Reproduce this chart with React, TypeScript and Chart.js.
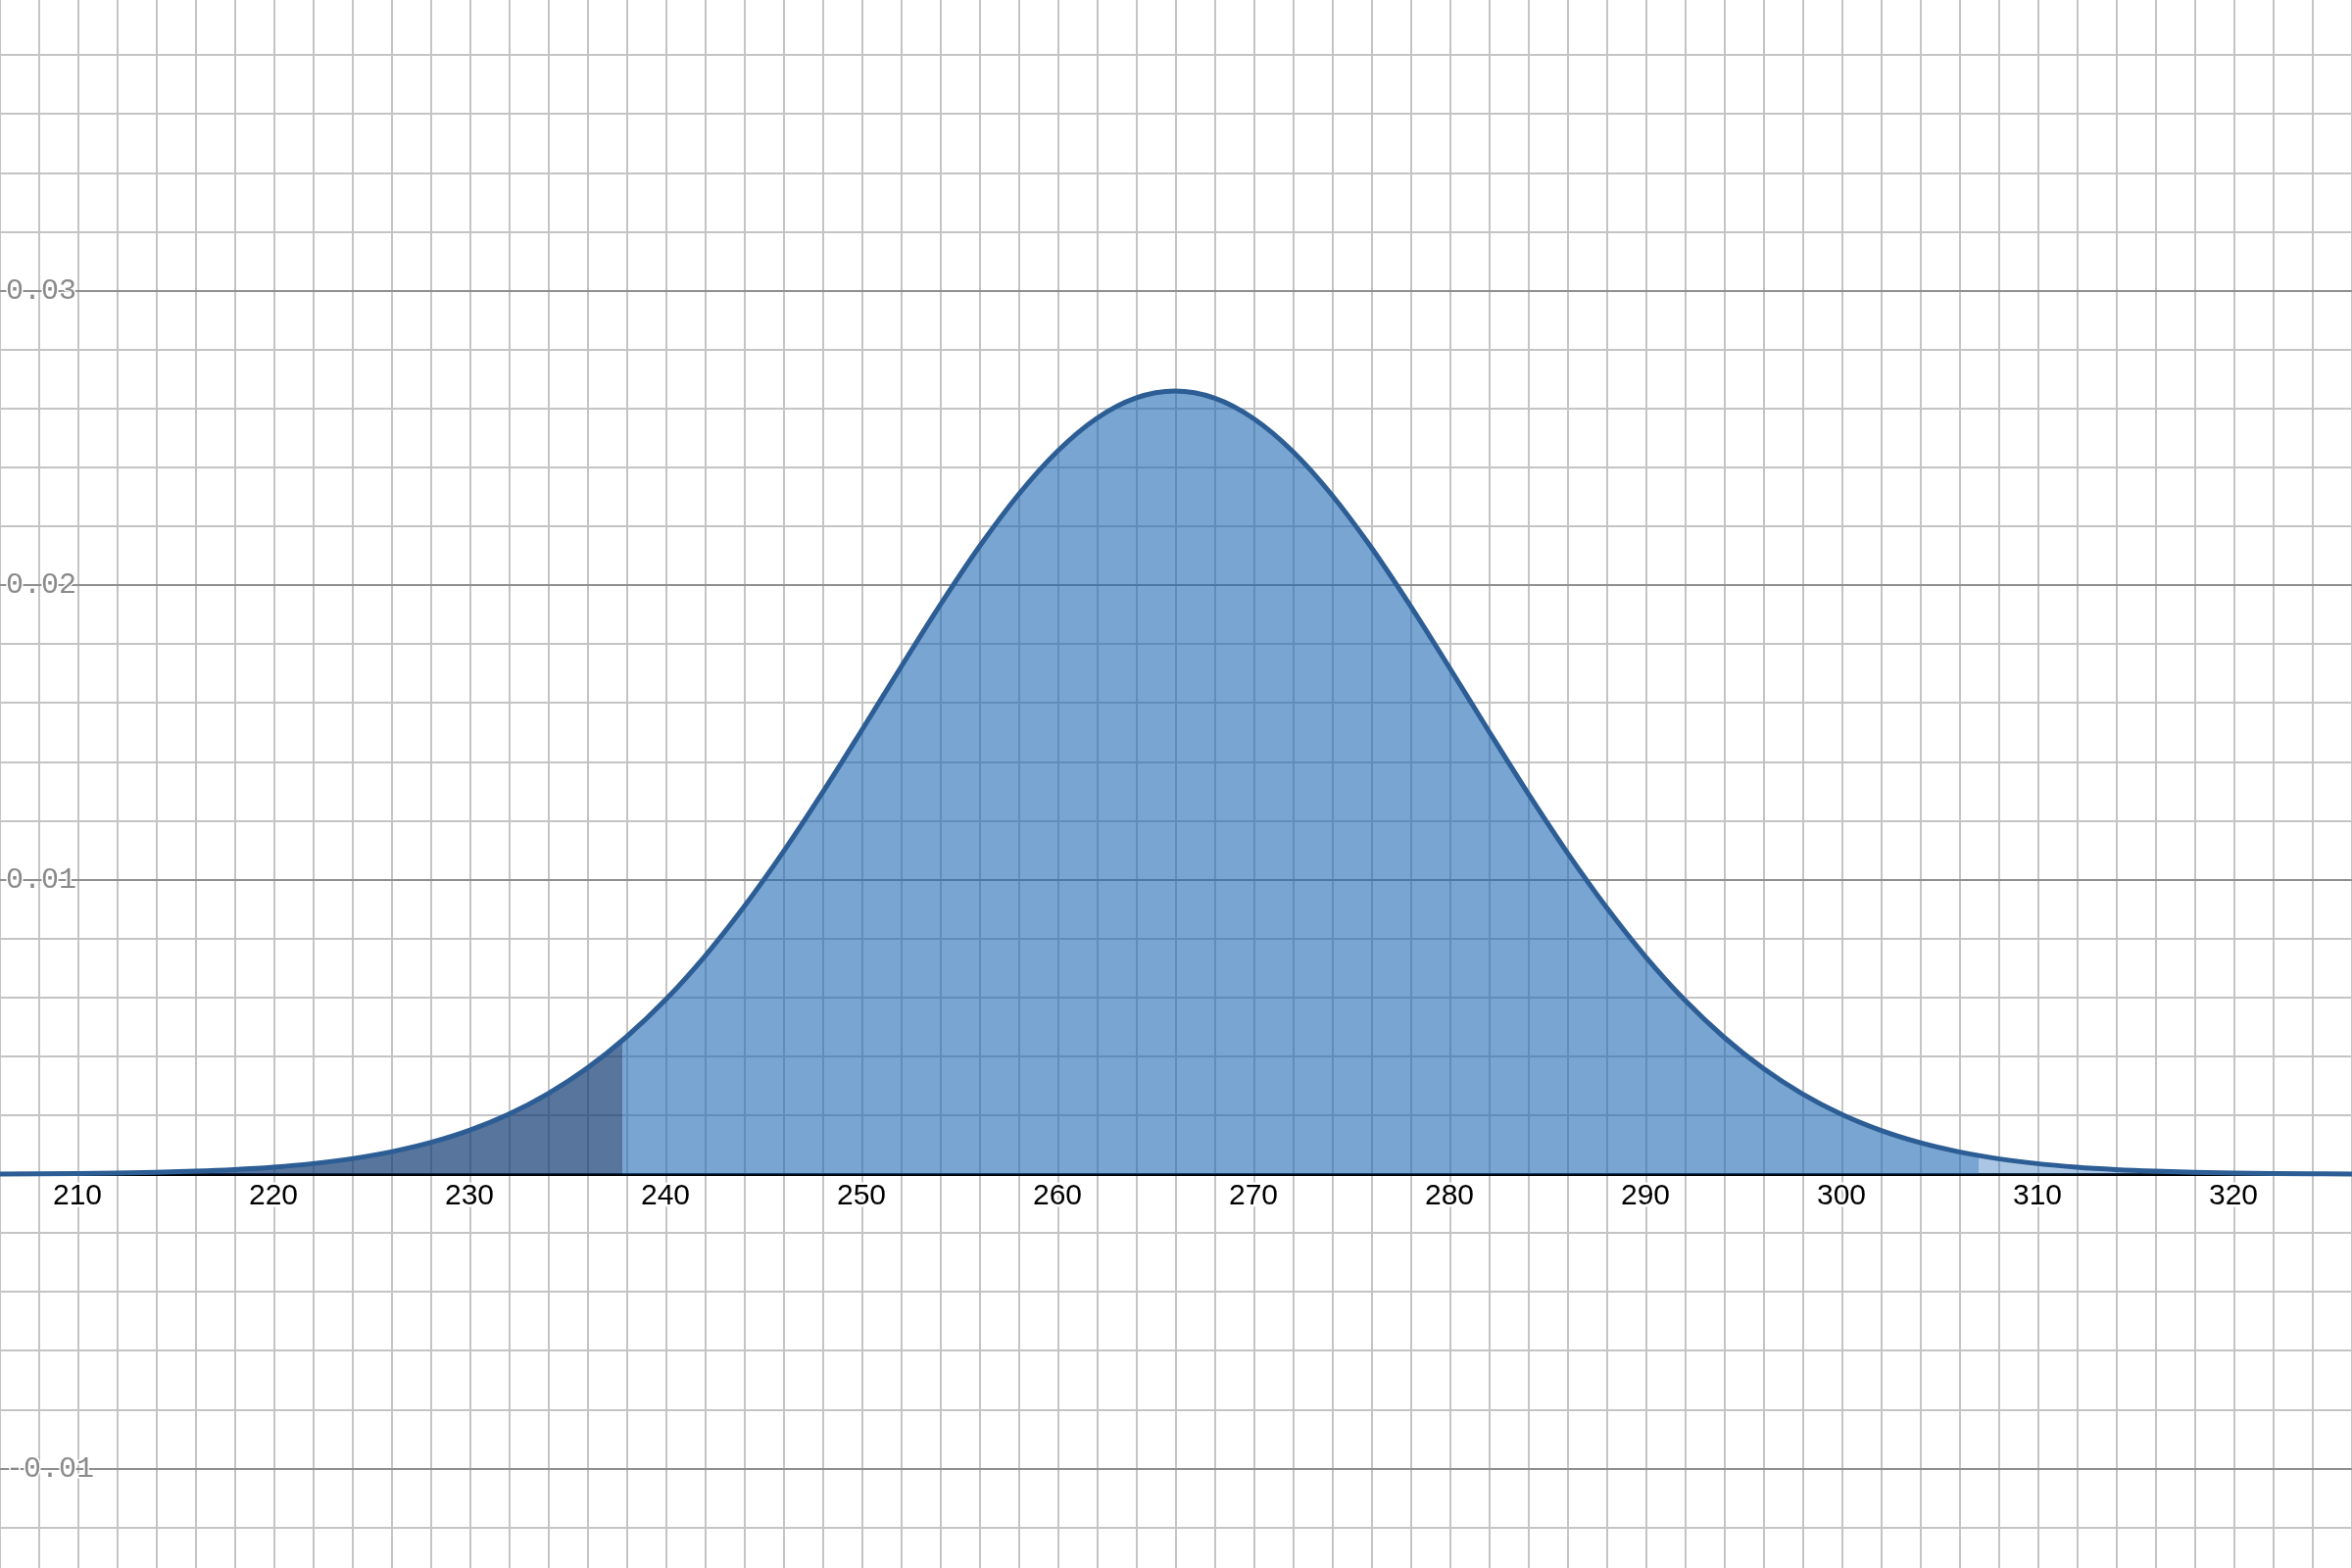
import React, { useEffect, useRef } from "react";
import { Chart, registerables } from "chart.js";

Chart.register(...registerables);

const xValues = [
  204, 206, 208, 210, 212, 214, 216, 218, 220, 222, 224, 226, 228, 230, 232, 234, 236, 238,
  240, 242, 244, 246, 248, 250, 252, 254, 256, 258, 260, 262, 264, 266, 268, 270, 272, 274,
  276, 278, 280, 282, 284, 286, 288, 290, 292, 294, 296, 298, 300, 302, 304, 306, 308, 310,
  312, 314, 316, 318, 320, 322, 324, 326, 328,
];
const densityValues = [
  0.0000052, 0.0000089, 0.0000151, 0.000025, 0.0000408, 0.0000653, 0.0001028, 0.0001589,
  0.0002413, 0.0003601, 0.0005277, 0.0007597, 0.0010743, 0.001493, 0.0020378, 0.0027324,
  0.0035994, 0.004658, 0.0059211, 0.0073947, 0.0090724, 0.0109339, 0.0129456, 0.0150573,
  0.0172058, 0.0193127, 0.0212965, 0.0230702, 0.0245513, 0.025667, 0.0263606, 0.0265962,
  0.0263606, 0.025667, 0.0245513, 0.0230702, 0.0212965, 0.0193127, 0.0172058, 0.0150573,
  0.0129456, 0.0109339, 0.0090724, 0.0073947, 0.0059211, 0.004658, 0.0035994, 0.0027324,
  0.0020378, 0.001493, 0.0010743, 0.0007597, 0.0005277, 0.0003601, 0.0002413, 0.0001589,
  0.0001028, 0.0000653, 0.0000408, 0.000025, 0.0000151, 0.0000089, 0.0000052,
];
// Shaded-region boundaries and curve height there
const lowerBound = 237.8;
const lowerBoundValue = 0.0045429;
const upperBound = 307;
const upperBoundValue = 0.0006346;

// Axis label values
const xLabelValues = [210, 220, 230, 240, 250, 260, 270, 280, 290, 300, 310, 320];
const yLabelValues = [0.03, 0.02, 0.01, -0.01];
const yLabelTexts = ["0.03", "0.02", "0.01", "-0.01"];

const X_MIN = 206.05;
const X_MAX = 326.05;
const Y_MIN = -0.013372;
const Y_MAX = 0.039877;

type Pt = { x: number; y: number };

function curvePoints(from: number, to: number): Pt[] {
  const pts: Pt[] = [];
  for (let i = 0; i < xValues.length; i++) {
    if (xValues[i] >= from && xValues[i] <= to) pts.push({ x: xValues[i], y: densityValues[i] });
  }
  return pts;
}

function isMultiple(v: number, step: number) {
  const r = v / step;
  return Math.abs(r - Math.round(r)) < 1e-6;
}

export default function App() {
  const canvasRef = useRef<HTMLCanvasElement | null>(null);

  useEffect(() => {
    const canvas = canvasRef.current;
    if (!canvas) return;

    const allPts = curvePoints(-Infinity, Infinity);
    const leftPts = [
      ...curvePoints(-Infinity, lowerBound),
      { x: lowerBound, y: lowerBoundValue },
    ];
    const midPts = [
      { x: lowerBound, y: lowerBoundValue },
      ...curvePoints(lowerBound, upperBound),
      { x: upperBound, y: upperBoundValue },
    ];
    const rightPts = [
      { x: upperBound, y: upperBoundValue },
      ...curvePoints(upperBound, Infinity),
    ];

    const labelPlugin = {
      id: "axisLabels",
      afterDraw(chart: any) {
        const ctx = chart.ctx as CanvasRenderingContext2D;
        const xs = chart.scales.x;
        const ys = chart.scales.y;
        ctx.save();
        // x labels
        ctx.font = '30px "Liberation Sans", Arial, sans-serif';
        ctx.textAlign = "center";
        ctx.textBaseline = "middle";
        ctx.lineJoin = "round";
        const y0 = ys.getPixelForValue(0);
        for (const v of xLabelValues) {
          const px = xs.getPixelForValue(v);
          ctx.strokeStyle = "#ffffff";
          ctx.lineWidth = 5;
          ctx.strokeText(String(v), px, y0 + 23);
          ctx.fillStyle = "#000000";
          ctx.fillText(String(v), px, y0 + 23);
        }
        // y labels
        ctx.font = '30px "Liberation Mono", "DejaVu Sans Mono", monospace';
        ctx.textAlign = "left";
        for (let i = 0; i < yLabelValues.length; i++) {
          const py = ys.getPixelForValue(yLabelValues[i]);
          ctx.strokeStyle = "#ffffff";
          ctx.lineWidth = 3;
          ctx.strokeText(yLabelTexts[i], 6, py);
          ctx.fillStyle = "#8a8a8a";
          ctx.fillText(yLabelTexts[i], 6, py);
        }
        ctx.restore();
      },
    };

    const chart = new Chart(canvas, {
      type: "line",
      data: {
        datasets: [
          {
            label: "curve",
            data: allPts,
            borderColor: "#2c5d94",
            borderWidth: 5,
            fill: false,
            pointRadius: 0,
            cubicInterpolationMode: "monotone",
            order: 0,
          },
          {
            label: "lower tail",
            data: leftPts,
            borderWidth: 0,
            borderColor: "rgba(0,0,0,0)",
            backgroundColor: "rgba(16,59,116,0.7)",
            fill: "origin",
            pointRadius: 0,
            cubicInterpolationMode: "monotone",
            order: 1,
          },
          {
            label: "middle",
            data: midPts,
            borderWidth: 0,
            borderColor: "rgba(0,0,0,0)",
            backgroundColor: "rgba(30,105,180,0.6)",
            fill: "origin",
            pointRadius: 0,
            cubicInterpolationMode: "monotone",
            order: 2,
          },
          {
            label: "upper tail",
            data: rightPts,
            borderWidth: 0,
            borderColor: "rgba(0,0,0,0)",
            backgroundColor: "rgba(42,112,187,0.4)",
            fill: "origin",
            pointRadius: 0,
            cubicInterpolationMode: "monotone",
            order: 3,
          },
        ],
      },
      options: {
        animation: false,
        responsive: false,
        layout: { padding: 0 },
        plugins: {
          legend: { display: false },
          tooltip: { enabled: false },
        },
        scales: {
          x: {
            type: "linear",
            min: X_MIN,
            max: X_MAX,
            border: { display: false },
            ticks: { display: false, stepSize: 2, includeBounds: false },
            grid: {
              drawTicks: false,
              lineWidth: 2,
              color: (c: any) => (isMultiple(c.tick.value, 10) ? "#8f8f8f" : "#c4c4c4"),
            },
          },
          y: {
            type: "linear",
            min: Y_MIN,
            max: Y_MAX,
            border: { display: false },
            ticks: { display: false, stepSize: 0.002, includeBounds: false },
            grid: {
              drawTicks: false,
              lineWidth: (c: any) => (Math.abs(c.tick.value) < 1e-9 ? 3 : 2),
              color: (c: any) =>
                Math.abs(c.tick.value) < 1e-9
                  ? "#000000"
                  : isMultiple(c.tick.value, 0.01)
                  ? "#8f8f8f"
                  : "#c4c4c4",
            },
          },
        },
      },
      plugins: [labelPlugin],
    } as any);

    return () => chart.destroy();
  }, []);

  return (
    <div style={{ position: "fixed", left: 0, top: 0, width: 2400, height: 1600, background: "#ffffff" }}>
      <canvas ref={canvasRef} width={2400} height={1600} style={{ display: "block" }} />
    </div>
  );
}
